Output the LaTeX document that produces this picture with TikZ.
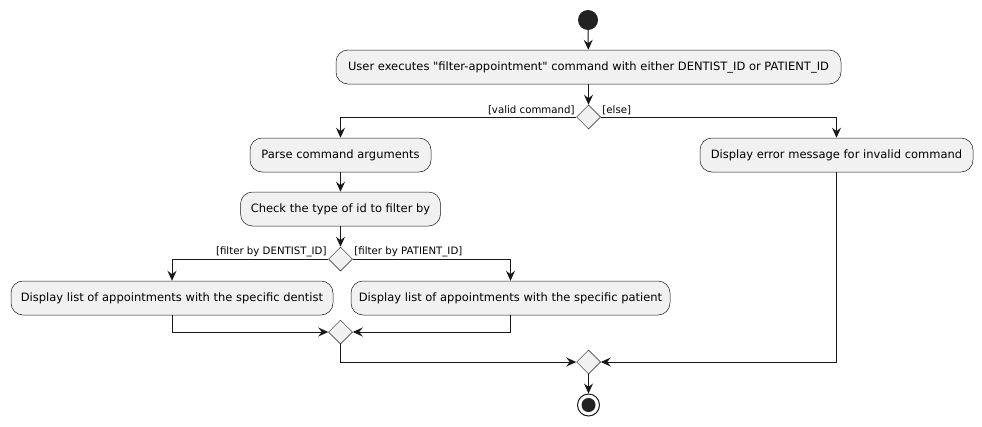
\documentclass[tikz,border=0pt]{standalone}
\usepackage{fontspec}
\setmainfont{DejaVu Sans}[Ligatures=TeXOff]
\usetikzlibrary{arrows.meta,shapes.geometric}
\definecolor{boxfill}{HTML}{F1F1F1}
\definecolor{lc}{HTML}{181818}
\definecolor{dot}{HTML}{222222}
\begin{document}
\begin{tikzpicture}[x=1pt,y=-1pt,
  act/.style={draw=lc, fill=boxfill, rounded corners=12pt, minimum height=34pt, inner sep=0pt, font=\fontsize{11.5}{13}\selectfont, line width=0.5pt},
  dec/.style={diamond, draw=lc, fill=boxfill, minimum width=24pt, minimum height=24pt, inner sep=0pt, line width=0.5pt},
  flow/.style={draw=lc, line width=1pt, -{Stealth[length=10pt,width=9pt,inset=3.5pt]}},
  lbl/.style={font=\fontsize{10.2}{12}\selectfont, inner sep=1.5pt}]
\useasboundingbox (0,0) rectangle (982,426);
\node[circle, fill=dot, minimum size=20pt, inner sep=0pt] (start) at (588,20) {};
\node[act, minimum width=505pt] (a1) at (588.5,67) {User executes "filter-appointment" command with either DENTIST\_ID or PATIENT\_ID};
\node[dec] (d1) at (588.5,117) {};
\node[act, minimum width=181pt] (parse) at (340.5,155) {Parse command arguments};
\node[act, minimum width=273pt] (err) at (836.5,155) {Display error message for invalid command};
\node[act, minimum width=200pt] (chk) at (340.5,209) {Check the type of id to filter by};
\node[dec] (d2) at (340.5,259) {};
\node[act, minimum width=322pt] (dent) at (172,298) {Display list of appointments with the specific dentist};
\node[act, minimum width=319pt] (pat) at (510.5,298) {Display list of appointments with the specific patient};
\node[dec] (d3) at (340.5,332) {};
\node[dec] (d4) at (588.5,362) {};
\node[circle, draw=lc, fill=white, line width=1pt, minimum size=22pt, inner sep=0pt] (stop) at (588.5,405) {};
\node[circle, fill=dot, minimum size=14pt, inner sep=0pt] (stopin) at (stop.center) {};
\node[lbl, anchor=south east] (lvalid) at (d1.west) {[valid command]};
\node[lbl, anchor=south west] (lelse) at (d1.east) {[else]};
\node[lbl, anchor=south east] (ldent) at (d2.west) {[filter by DENTIST\_ID]};
\node[lbl, anchor=south west] (lpat) at (d2.east) {[filter by PATIENT\_ID]};
\draw[flow] (start) -- (a1);
\draw[flow] (a1) -- (d1);
\draw[flow] (d1.west) -| (parse.north);
\draw[flow] (d1.east) -| (err.north);
\draw[flow] (parse) -- (chk);
\draw[flow] (chk) -- (d2);
\draw[flow] (d2.west) -| (dent.north);
\draw[flow] (d2.east) -| (pat.north);
\draw[flow] (dent.south) |- (d3.west);
\draw[flow] (pat.south) |- (d3.east);
\draw[flow] (d3.south) |- (d4.west);
\draw[flow] (err.south) |- (d4.east);
\draw[flow] (d4) -- (stop);
\end{tikzpicture}
\end{document}
